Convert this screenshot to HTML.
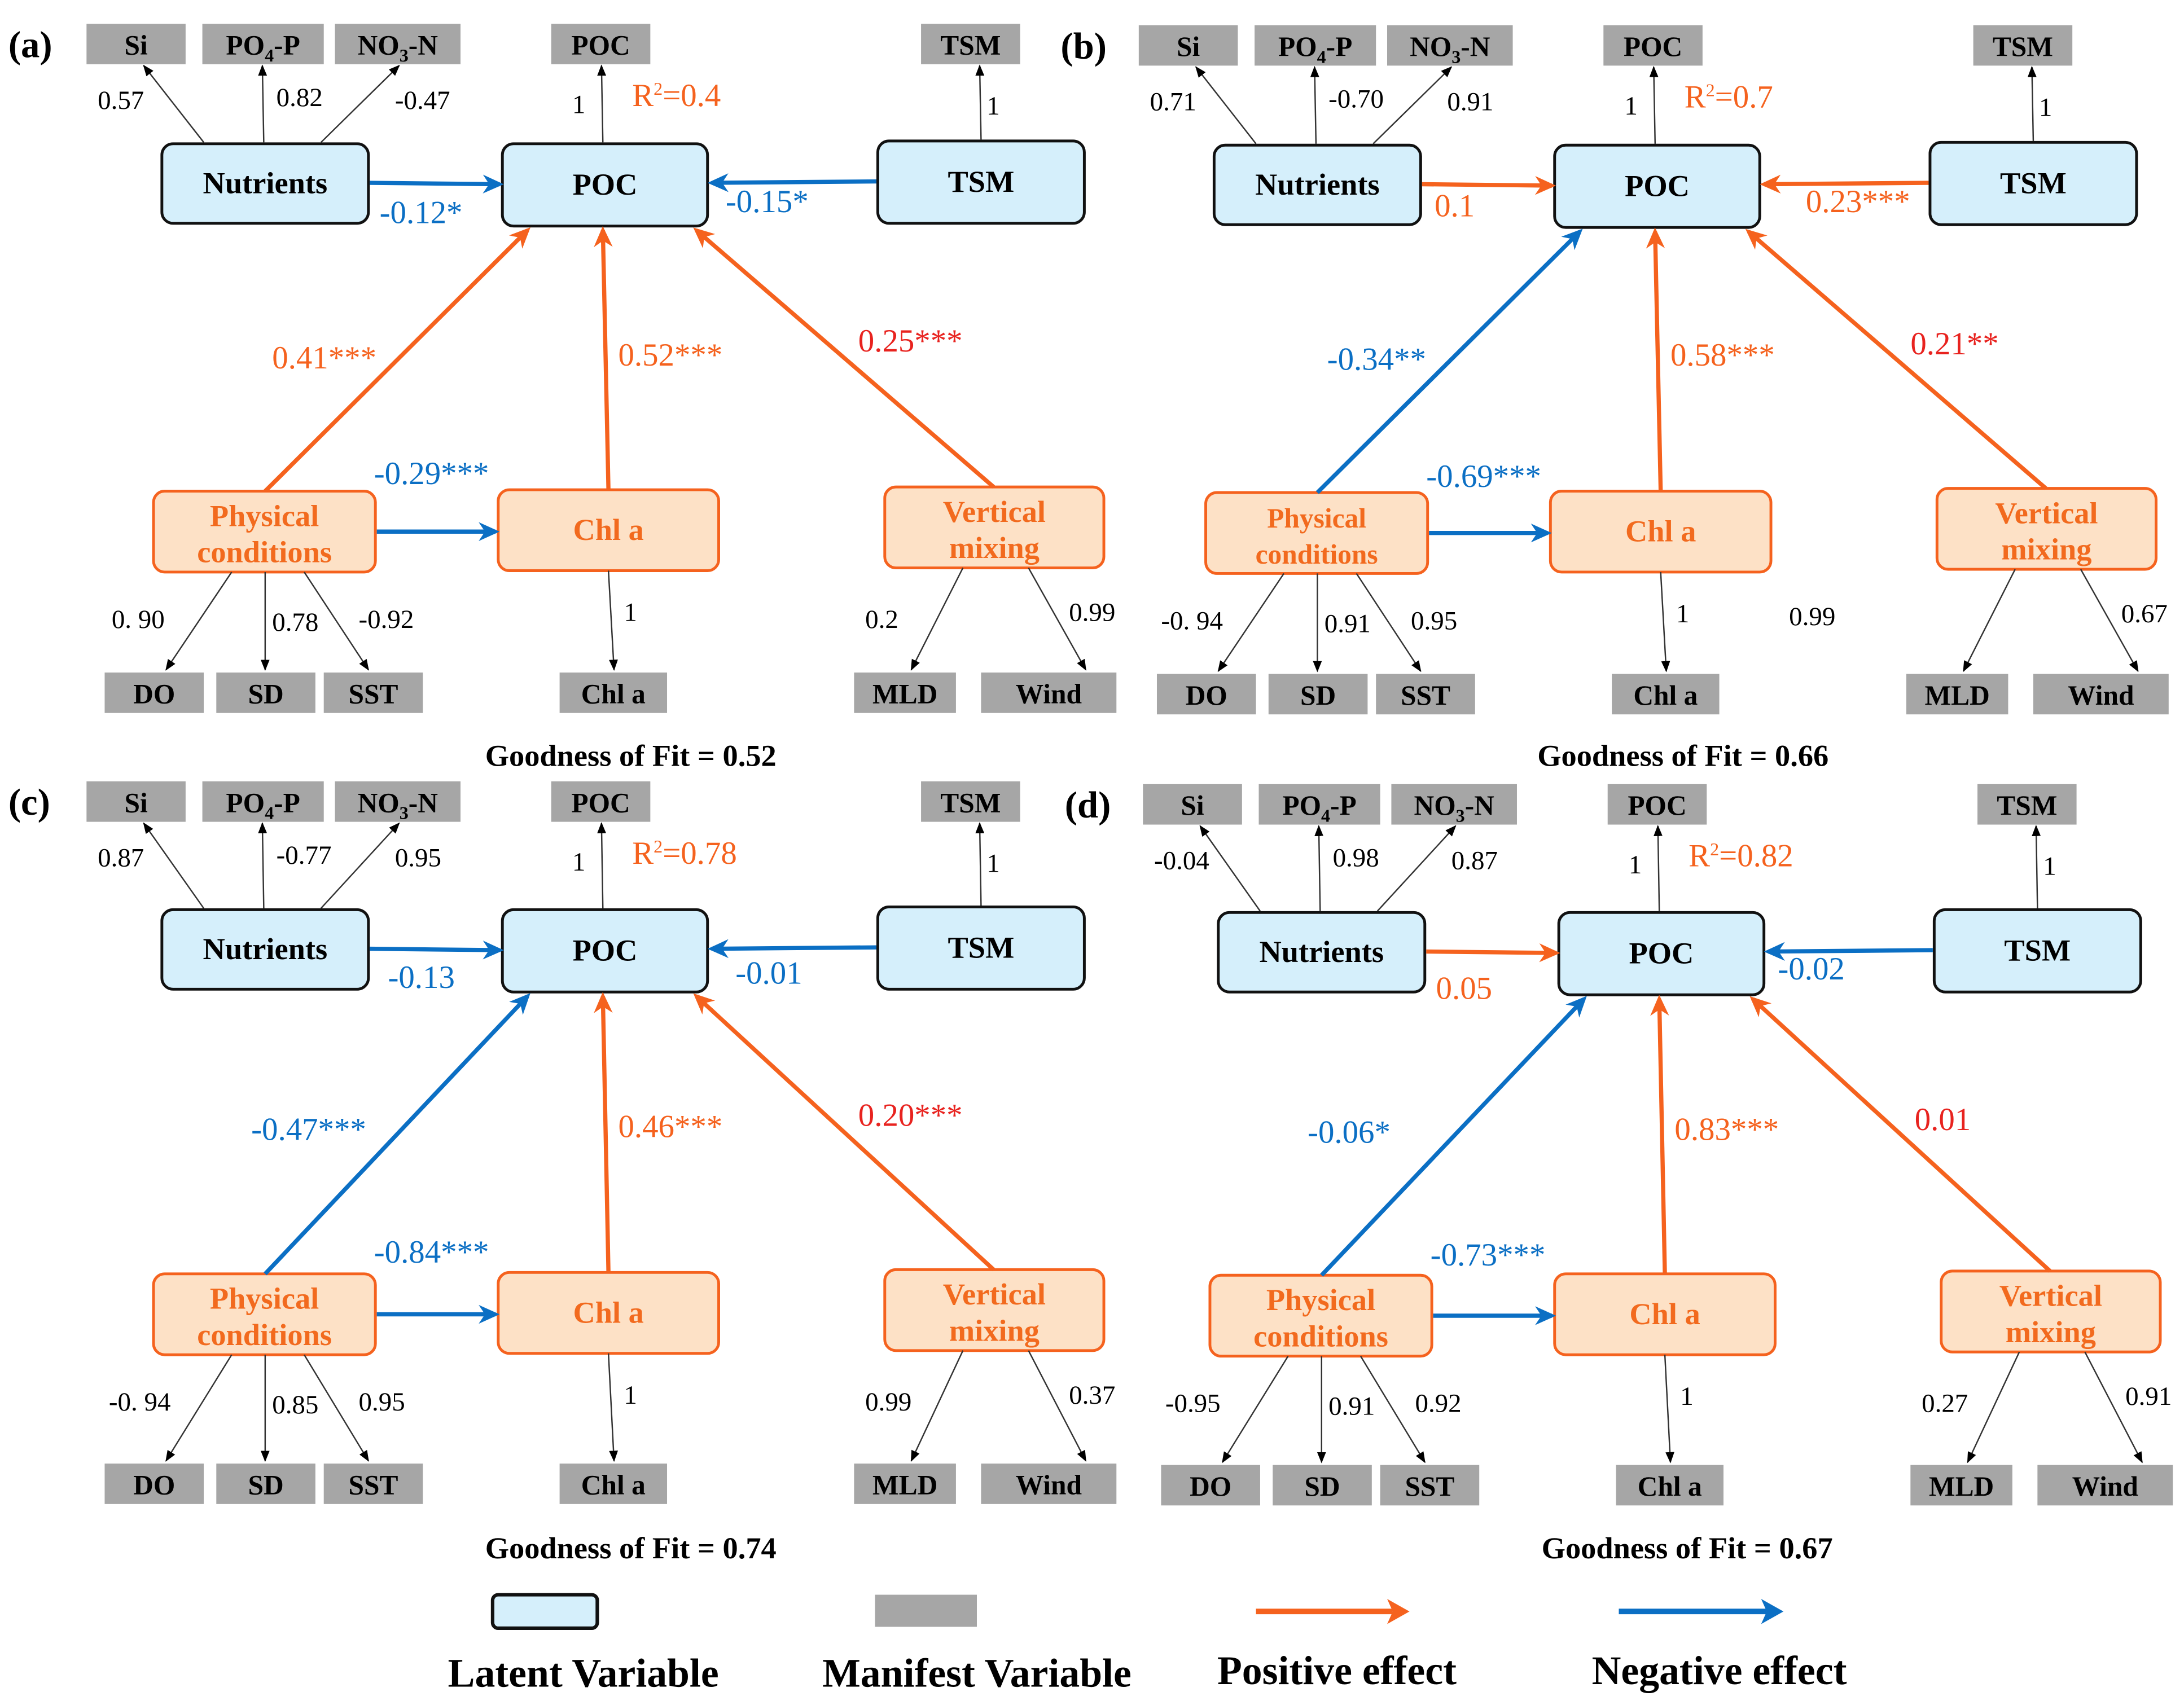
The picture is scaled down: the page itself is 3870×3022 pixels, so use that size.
<!DOCTYPE html>
<html><head><meta charset="utf-8">
<style>html,body{margin:0;padding:0;background:#fff;font-family:"Liberation Serif","DejaVu Serif","Times New Roman",serif;}svg{display:block;}text,tspan{font-family:"Liberation Serif","DejaVu Serif","Times New Roman",serif !important;}</style>
</head><body>
<svg id="s" width="3870" height="3022" viewBox="0 0 1565 1222" xmlns="http://www.w3.org/2000/svg">
<defs>
<marker id="mo" viewBox="0 0 10 10" refX="8" refY="5" markerWidth="15" markerHeight="15" orient="auto" markerUnits="userSpaceOnUse"><path d="M0,0.5 L10,5 L0,9.5 L3,5 z" fill="#f5621e"/></marker>
<marker id="mb" viewBox="0 0 10 10" refX="8" refY="5" markerWidth="15" markerHeight="15" orient="auto" markerUnits="userSpaceOnUse"><path d="M0,0.5 L10,5 L0,9.5 L3,5 z" fill="#0b6fc4"/></marker>
<marker id="mk" viewBox="0 0 10 10" refX="9" refY="5" markerWidth="8" markerHeight="8" orient="auto" markerUnits="userSpaceOnUse"><path d="M0,1 L10,5 L0,9 z" fill="#000"/></marker>
</defs>
<g id="g"></g>
</svg>
<script>
var O='#f5621e',B='#0b6fc4',R='#e8231f';
var FF=' font-family="Liberation Serif, DejaVu Serif, Times New Roman, serif"';
var panels=[
{l:'(a)',ox:0,gy:32,ly:131,py:381,by:497,gof:'Goodness of Fit = 0.52',gofy:542,
 top:['0.57','0.82','-0.47'],r2:'R²=0.4',nut:['-0.12*',B,272,160],tsm:['-0.15*',B,520,152],
 ph:['0.41***',O,O,195,264],ch:['0.52***',O,443,262],vm:['0.25***',R,615,252],pc:['-0.29***',B,268,347],
 bot:['0. 90','0.78','-0.92'],vml:['0.2','0.99'],extra:null},
{l:'(b)',ox:754,gy:33,ly:132,py:382,by:498,gof:'Goodness of Fit = 0.66',gofy:542,
 top:['0.71','-0.70','0.91'],r2:'R²=0.7',nut:['0.1',O,274,155],tsm:['0.23***',O,540,152],
 ph:['-0.34**',B,B,197,265],ch:['0.58***',O,443,262],vm:['0.21**',R,615,254],pc:['-0.69***',B,268,349],
 bot:['-0. 94','0.91','0.95'],vml:['','0.67'],extra:'0.99'},
{l:'(c)',ox:0,gy:575,ly:680,py:942,by:1064,gof:'Goodness of Fit = 0.74',gofy:1110,
 top:['0.87','-0.77','0.95'],r2:'R²=0.78',nut:['-0.13',B,278,708],tsm:['-0.01',B,527,705],
 ph:['-0.47***',B,B,180,817],ch:['0.46***',O,443,815],vm:['0.20***',R,615,807],pc:['-0.84***',B,268,905],
 bot:['-0. 94','0.85','0.95'],vml:['0.99','0.37'],extra:null},
{l:'(d)',ox:757,gy:577,ly:682,py:943,by:1065,gof:'Goodness of Fit = 0.67',gofy:1110,
 top:['-0.04','0.98','0.87'],r2:'R²=0.82',nut:['0.05',O,272,716],tsm:['-0.02',B,517,702],
 ph:['-0.06*',B,B,180,819],ch:['0.83***',O,443,817],vm:['0.01',R,615,810],pc:['-0.73***',B,268,907],
 bot:['-0.95','0.91','0.92'],vml:['0.27','0.91'],extra:null}
];
var h='';
function gray(x1,x2,yc,t){h+='<rect x="'+x1+'" y="'+(yc-15)+'" width="'+(x2-x1)+'" height="29" fill="#a6a6a6"/>';
 h+='<text'+FF+' x="'+((x1+x2)/2)+'" y="'+(yc+7)+'" font-size="20" font-weight="bold" text-anchor="middle">'+t+'</text>';}
function line(x1,y1,x2,y2,c,w,m){h+='<line x1="'+x1+'" y1="'+y1+'" x2="'+x2+'" y2="'+y2+'" stroke="'+c+'" stroke-width="'+w+'" marker-end="url(#'+m+')"/>';}
function txt(x,y,t,s,c,a,b){h+='<text'+FF+' x="'+x+'" y="'+y+'" font-size="'+s+'" fill="'+(c||'#000')+'"'+(a?' text-anchor="'+a+'"':'')+(b?' font-weight="bold"':'')+'>'+t+'</text>';}
function lat(x1,x2,y1,y2,t){h+='<rect x="'+x1+'" y="'+y1+'" width="'+(x2-x1)+'" height="'+(y2-y1)+'" rx="8" fill="#d5effb" stroke="#111" stroke-width="2"/>';
 txt((x1+x2)/2,(y1+y2)/2+7,t,22,'#000','middle',1);}
function org(x1,x2,y1,y2,t,fs){h+='<rect x="'+x1+'" y="'+y1+'" width="'+(x2-x1)+'" height="'+(y2-y1)+'" rx="8" fill="#fde1c6" stroke="#f5621e" stroke-width="2"/>';
 if(t.length==1)txt((x1+x2)/2,(y1+y2)/2+7,t[0],22,'#f26a1e','middle',1);
 else{txt((x1+x2)/2,(y1+y2)/2-4,t[0],fs,'#f26a1e','middle',1);txt((x1+x2)/2,(y1+y2)/2+22,t[1],fs,'#f26a1e','middle',1);}}
function mk(c){return c==B?'mb':'mo';}
panels.forEach(function(p,i){
 var X=function(v){return v+p.ox;};
 h+='<g>';
 txt(X(6),p.gy+9,p.l,27,'#000',null,1);
 gray(X(62),X(133),p.gy,'Si');
 gray(X(145),X(232),p.gy,'PO<tspan font-size="13" dy="5">4</tspan><tspan dy="-5">-P</tspan>');
 gray(X(240),X(330),p.gy,'NO<tspan font-size="13" dy="5">3</tspan><tspan dy="-5">-N</tspan>');
 gray(X(395),X(466),p.gy,'POC');
 gray(X(660),X(731),p.gy,'TSM');
 var L=p.ly;
 line(X(146),L-29,X(103),p.gy+15,'#333',1,'mk');
 line(X(189),L-29,X(188),p.gy+15,'#333',1,'mk');
 line(X(230),L-29,X(286),p.gy+15,'#333',1,'mk');
 line(X(432),L-29,X(431),p.gy+15,'#333',1,'mk');
 line(X(703),L-31,X(702),p.gy+15,'#333',1,'mk');
 txt(X(70),p.gy+46,p.top[0],19);txt(X(198),p.gy+44,p.top[1],19);txt(X(283),p.gy+46,p.top[2],19);
 txt(X(410),p.gy+49,'1',19);txt(X(707),p.gy+50,'1',19);
 txt(X(453),p.gy+44,p.r2.replace('²','<tspan font-size="13" dy="-8">2</tspan><tspan dy="8">')+'</tspan>',23,O);
 lat(X(116),X(264),L-28,L+29,'Nutrients');
 lat(X(360),X(507),L-28,L+31,'POC');
 lat(X(629),X(777),L-30,L+29,'TSM');
 line(X(265),L,X(358),L+1,p.nut[1],3,mk(p.nut[1]));
 line(X(628),L-1,X(510),L,p.tsm[1],3,mk(p.tsm[1]));
 txt(X(p.nut[2]),p.nut[3],p.nut[0],23,p.nut[1]);
 txt(X(p.tsm[2]),p.tsm[3],p.tsm[0],23,p.tsm[1]);
 var P=p.py;
 org(X(110),X(269),P-29,P+29,['Physical','conditions'],i==1?20:22);
 org(X(357),X(515),P-30,P+28,['Chl a']);
 org(X(634),X(791),P-32,P+26,['Vertical','mixing'],22);
 line(X(190),P-29,X(378),L+34,p.ph[1],3,mk(p.ph[1]));
 line(X(436),P-30,X(432),L+34,O,3,'mo');
 line(X(712),P-32,X(499),L+34,O,3,'mo');
 line(X(270),P,X(355),P,B,3,'mb');
 txt(X(p.ph[3]),p.ph[4],p.ph[0],23,p.ph[1]);
 txt(X(p.ch[2]),p.ch[3],p.ch[0],23,p.ch[1]);
 txt(X(p.vm[2]),p.vm[3],p.vm[0],23,p.vm[1]);
 txt(X(p.pc[2]),p.pc[3],p.pc[0],23,p.pc[1]);
 var b=p.by;
 line(X(166),P+29,X(119),b-17,'#333',1,'mk');
 line(X(190),P+29,X(190),b-17,'#333',1,'mk');
 line(X(218),P+29,X(264),b-17,'#333',1,'mk');
 line(X(436),P+28,X(440),b-17,'#333',1,'mk');
 line(X(690),P+26,X(653),b-17,'#333',1,'mk');
 line(X(737),P+26,X(778),b-17,'#333',1,'mk');
 txt(X(i==0?80:78),P+69,p.bot[0],19);txt(X(195),P+71,p.bot[1],19);txt(X(257),P+69,p.bot[2],19);
 txt(X(447),P+64,'1',19);
 if(p.vml[0])txt(X(620),P+69,p.vml[0],19);
 txt(X(766),P+64,p.vml[1],19);
 if(p.extra)txt(X(528),P+66,p.extra,19);
 gray(X(75),X(146),b,'DO');gray(X(155),X(226),b,'SD');gray(X(232),X(303),b,'SST');
 gray(X(401),X(478),b,'Chl a');gray(X(612),X(685),b,'MLD');gray(X(703),X(800),b,'Wind');
 txt(X(452),p.gofy+7,p.gof,22,'#000','middle',1);
 h+='</g>';
});
h+='<rect x="353" y="1143" width="75" height="24" rx="4" fill="#d5effb" stroke="#111" stroke-width="2.5"/>';
h+='<rect x="627" y="1143" width="73" height="23" fill="#a6a6a6"/>';
h+='<line x1="900" y1="1155" x2="998" y2="1155" stroke="#f5621e" stroke-width="4"/><path d="M994,1146 L1010,1155 L994,1164 L998,1155z" fill="#f5621e"/>';
h+='<line x1="1160" y1="1155" x2="1266" y2="1155" stroke="#0b6fc4" stroke-width="4"/><path d="M1262,1146 L1278,1155 L1262,1164 L1266,1155z" fill="#0b6fc4"/>';
txt(418,1209,'Latent Variable',29,'#000','middle',1);
txt(700,1209,'Manifest Variable',29,'#000','middle',1);
txt(958,1207,'Positive effect',29,'#000','middle',1);
txt(1232,1207,'Negative effect',29,'#000','middle',1);
document.getElementById('g').innerHTML=h;
</script>
</body></html>
